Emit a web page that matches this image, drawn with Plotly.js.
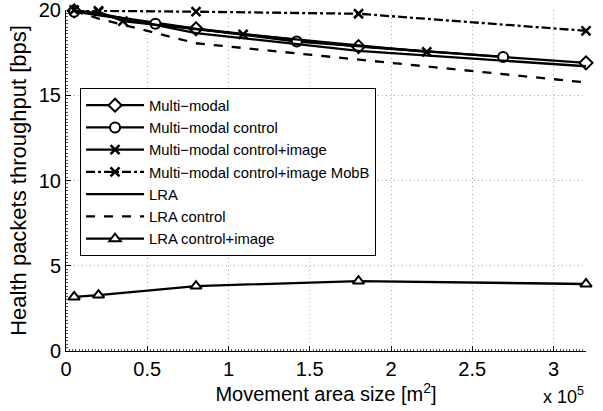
<!DOCTYPE html>
<html><head><meta charset="utf-8">
<script src="https://cdn.plot.ly/plotly-3.0.1.min.js"></script>
<style>body{margin:0;background:#fff}#c{width:603px;height:411px}</style>
</head><body><div id="c"></div>
<script>
// Data (x in m^2, y in bps)
const mmX = [5000, 80000, 180000, 320000];
const mmY = [19.95, 18.9, 17.85, 16.9];
const mmCtrlX = [5000, 55000, 142000, 269000];
const mmCtrlY = [19.9, 19.2, 18.15, 17.25];
const mmCiX = [20000, 35000, 109000, 222000];
const mmCiY = [19.9, 19.35, 18.57, 17.55];
const mobbX = [5000, 20000, 80000, 180000, 320000];
const mobbY = [20.0, 19.95, 19.9, 19.78, 18.78];
const lraX = [5000, 20000, 80000, 180000, 320000];
const lraY = [20.0, 19.8, 18.65, 17.6, 16.7];
const lraCtrlX = [5000, 20000, 80000, 180000, 320000];
const lraCtrlY = [19.95, 19.5, 18.05, 17.1, 15.75];
const lraCiX = [5000, 20000, 80000, 180000, 320000];
const lraCiY = [3.17, 3.28, 3.81, 4.1, 3.93];
const names = ["Multi\u2212modal", "Multi\u2212modal control", "Multi\u2212modal control+image",
  "Multi\u2212modal control+image MobB", "LRA", "LRA control", "LRA control+image"];
const xTickVals = [0, 50000, 100000, 150000, 200000, 250000, 300000];
const xTickText = ["0", "0.5", "1", "1.5", "2", "2.5", "3"];
const yTickVals = [0, 5, 10, 15, 20];

const closedMk = (sym) => ({symbol: sym, size: 10, color: "white", line: {color: "black", width: 2}});
const crossMk = () => ({symbol: "x-thin", size: 9, color: "black", line: {color: "black", width: 2.5}});
const traces = [
  {x: mmX, y: mmY, name: names[0], mode: "lines+markers", line: {color: "black", width: 2.3}, marker: closedMk("diamond")},
  {x: mmCtrlX, y: mmCtrlY, name: names[1], mode: "lines+markers", line: {color: "black", width: 2.3}, marker: closedMk("circle")},
  {x: mmCiX, y: mmCiY, name: names[2], mode: "lines+markers", line: {color: "black", width: 2.3}, marker: crossMk()},
  {x: mobbX, y: mobbY, name: names[3], mode: "lines+markers", line: {color: "black", width: 2.3, dash: "dashdot"}, marker: crossMk()},
  {x: lraX, y: lraY, name: names[4], mode: "lines", line: {color: "black", width: 2.3}},
  {x: lraCtrlX, y: lraCtrlY, name: names[5], mode: "lines", line: {color: "black", width: 2.3, dash: "dash"}},
  {x: lraCiX, y: lraCiY, name: names[6], mode: "lines+markers", line: {color: "black", width: 2.3}, marker: closedMk("triangle-up")}
].map(t => Object.assign(t, {type: "scatter", cliponaxis: false}));

const font = {family: "Liberation Sans, Arial, sans-serif", color: "black"};
const f = (s) => Object.assign({size: s}, font);
const gridStyle = {showgrid: true, gridcolor: "#b0b0b0", griddash: "1px,3px", gridwidth: 1};
const layout = {
  width: 603, height: 411,
  margin: {l: 66, r: 17, t: 10, b: 60},
  paper_bgcolor: "white", plot_bgcolor: "white",
  font: f(20),
  showlegend: true,
  legend: {x: 0.027, y: 0.771, xanchor: "left", yanchor: "top", bgcolor: "white",
    bordercolor: "black", borderwidth: 1, font: f(14.8), tracegroupgap: 0, itemwidth: 58,
    entrywidth: 240, entrywidthmode: "pixels"},
  xaxis: Object.assign({range: [0, 320000], tickvals: xTickVals, ticktext: xTickText, ticks: "inside", ticklen: 5,
    tickcolor: "black", showline: true, linecolor: "black", linewidth: 1, mirror: false, zeroline: false,
    automargin: false, tickfont: f(20), ticklabeloverflow: "allow",
    minor: {dtick: 2000, ticks: "inside", ticklen: 2, tickcolor: "#555", showgrid: false},
    title: {text: "Movement area size [m<sup>2</sup>]", font: f(20), standoff: 4}}, gridStyle),
  yaxis: Object.assign({range: [0, 20], tickvals: yTickVals, ticks: "inside", ticklen: 5,
    tickcolor: "black", showline: true, linecolor: "black", linewidth: 1, mirror: false, zeroline: false,
    automargin: false, tickfont: f(20), ticklabeloverflow: "allow",
    minor: {dtick: 0.2, ticks: "inside", ticklen: 2, tickcolor: "#555", showgrid: false},
    title: {text: "Health packets throughput [bps]", font: f(22), standoff: 6}}, gridStyle),
  annotations: [{text: "x 10<sup>5</sup>", xref: "paper", yref: "paper", x: 1.0, y: -0.09,
    xanchor: "right", yanchor: "top", showarrow: false, font: f(18)}]
};
Plotly.newPlot("c", traces, layout, {displayModeBar: false, staticPlot: true});
</script></body></html>
